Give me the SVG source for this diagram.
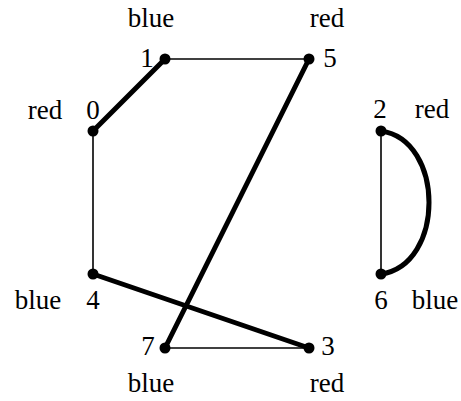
<svg xmlns="http://www.w3.org/2000/svg" width="461" height="401" viewBox="0 0 461 401">
<style>
text{font-family:"Liberation Serif","Times New Roman",serif;font-size:27px;fill:#000;text-anchor:middle}
.thin{stroke:#000;stroke-width:1.6;fill:none}
.thick{stroke:#000;stroke-width:5;fill:none;stroke-linecap:round}
circle{fill:#000}
</style>
<rect width="461" height="401" fill="#fff"/>
<g id="connectors">
<line class="thin" x1="165" y1="59" x2="309" y2="59"/>
<line class="thick" x1="93" y1="131" x2="165" y2="59"/>
<line class="thin" x1="93" y1="131" x2="93" y2="274"/>
<line class="thick" x1="309" y1="59" x2="165" y2="348"/>
<line class="thick" x1="93" y1="274" x2="309" y2="348"/>
<line class="thin" x1="165" y1="348" x2="309" y2="348"/>
<line class="thin" x1="381" y1="131" x2="381" y2="274"/>
<path class="thick" d="M381,131 C445,140 445,265 381,274"/>
</g>
<g id="node0"><circle cx="93" cy="131" r="5.5"/><text x="93" y="119">0</text><text x="45" y="119">red</text></g>
<g id="node1"><circle cx="165" cy="59" r="5.5"/><text x="147" y="67">1</text><text x="151" y="27">blue</text></g>
<g id="node2"><circle cx="381" cy="131" r="5.5"/><text x="380" y="118">2</text><text x="432" y="118">red</text></g>
<g id="node3"><circle cx="309" cy="348" r="5.5"/><text x="328" y="355">3</text><text x="327" y="392">red</text></g>
<g id="node4"><circle cx="93" cy="274" r="5.5"/><text x="93" y="309">4</text><text x="38" y="309">blue</text></g>
<g id="node5"><circle cx="309" cy="59" r="5.5"/><text x="330" y="67">5</text><text x="327" y="27">red</text></g>
<g id="node6"><circle cx="381" cy="274" r="5.5"/><text x="381" y="309">6</text><text x="435" y="309">blue</text></g>
<g id="node7"><circle cx="165" cy="348" r="5.5"/><text x="148" y="355">7</text><text x="151" y="392">blue</text></g>
</svg>
